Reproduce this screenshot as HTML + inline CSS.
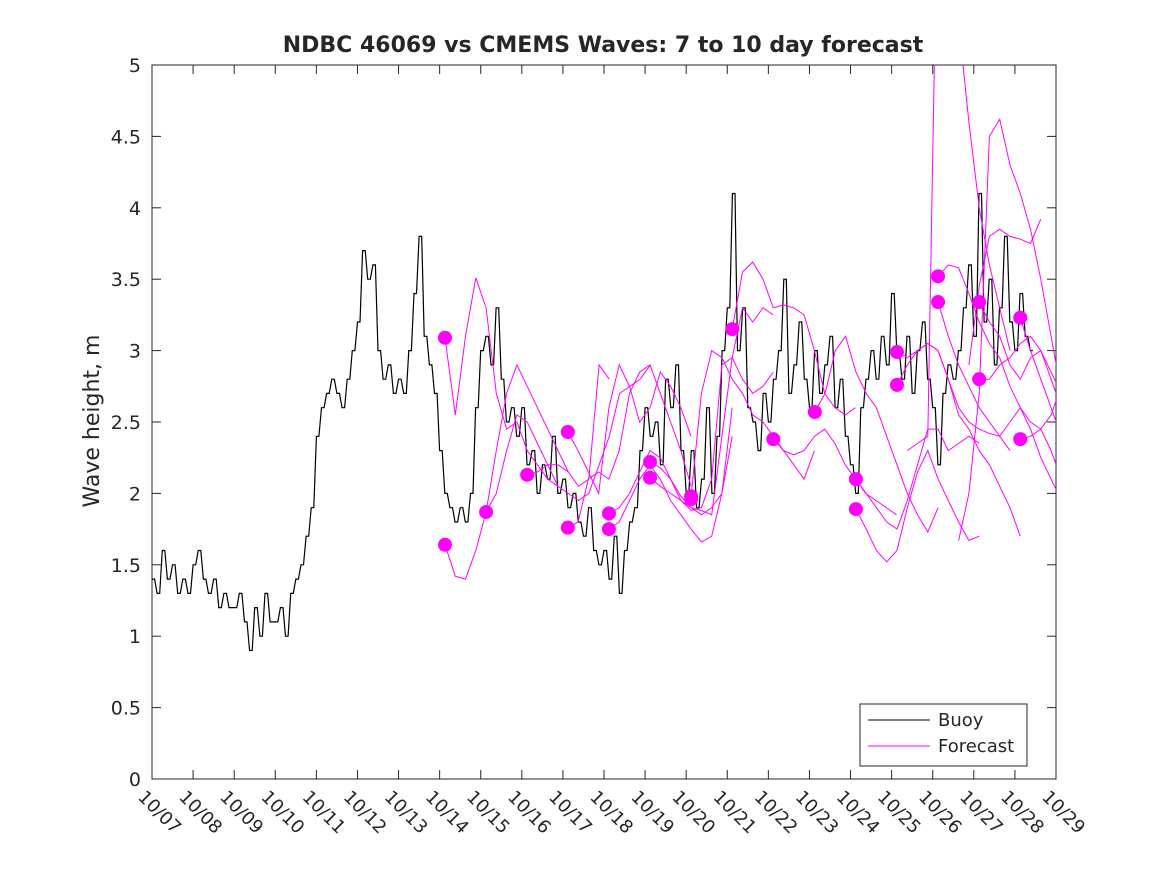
<!DOCTYPE html>
<html><head><meta charset="utf-8"><style>
body{margin:0;background:#fff;}
svg text{font-family:"DejaVu Sans","Liberation Sans",sans-serif;fill:#262626;}
</style></head><body>
<svg id="c" width="1167" height="875" xmlns="http://www.w3.org/2000/svg">
<defs><clipPath id="clip"><rect x="152" y="65" width="904" height="714"/></clipPath></defs>
<rect width="1167" height="875" fill="#fff"/>
<text x="603" y="52" text-anchor="middle" font-size="22" font-weight="bold">NDBC 46069 vs CMEMS Waves: 7 to 10 day forecast</text>
<text transform="translate(99,421) rotate(-90)" text-anchor="middle" font-size="22">Wave height, m</text>
<g id="axes"></g>
<g id="marks" clip-path="url(#clip)"></g>
<g id="legend">
<rect x="860" y="704" width="167" height="62" fill="#fff" stroke="#262626" stroke-width="1"/>
<line x1="868" y1="720" x2="930" y2="720" stroke="#000" stroke-width="1"/>
<text x="938" y="726" font-size="18">Buoy</text>
<line x1="868" y1="746" x2="930" y2="746" stroke="#ff00ff" stroke-width="1"/>
<text x="938" y="752" font-size="18">Forecast</text>
</g>
</svg>
<script>
const xTickLabels=["10/07","10/08","10/09","10/10","10/11","10/12","10/13","10/14","10/15","10/16","10/17","10/18","10/19","10/20","10/21","10/22","10/23","10/24","10/25","10/26","10/27","10/28","10/29"];
const yTicks=[0,0.5,1,1.5,2,2.5,3,3.5,4,4.5,5];
const buoyStart=0, buoyStep=0.125;
const buoy=[
1.4,1.3,1.6,1.4,1.5,1.3,1.4,1.3,
1.5,1.6,1.4,1.3,1.4,1.2,1.3,1.2,
1.2,1.3,1.1,0.9,1.2,1.0,1.3,1.1,
1.1,1.2,1.0,1.3,1.4,1.5,1.7,1.9,
2.4,2.6,2.7,2.8,2.7,2.6,2.8,3.0,
3.2,3.7,3.5,3.6,3.0,2.8,2.9,2.7,
2.8,2.7,3.0,3.4,3.8,3.1,2.9,2.7,
2.3,2.0,1.9,1.8,1.9,1.8,2.0,2.6,
3.0,3.1,2.9,3.3,2.8,2.5,2.6,2.4,
2.6,2.2,2.3,2.0,2.2,2.1,2.4,2.0,
2.1,1.9,2.0,1.8,1.7,1.9,1.6,1.5,
1.6,1.4,1.7,1.3,1.6,1.8,1.9,2.3,
2.6,2.4,2.5,2.2,2.8,2.6,2.9,2.3,
2.0,2.3,1.9,2.1,2.6,2.0,2.4,3.0,
3.3,4.1,3.0,3.3,2.6,2.5,2.3,2.7,
2.5,2.8,3.0,3.5,2.7,2.9,3.2,2.8,
2.6,3.0,2.7,2.9,3.1,2.6,2.8,2.4,
2.2,2.0,2.6,2.8,3.0,2.8,3.1,2.9,
3.4,3.0,2.8,3.1,2.7,3.0,3.2,2.8,
2.6,2.2,2.7,2.9,2.8,3.0,3.3,3.6,
3.1,4.1,3.2,3.5,2.9,3.3,3.8,3.2,
3.0,3.4,3.1,3.0];
const fcStep=0.25;
const fcStarts=[7.13,7.13,8.13,9.13,10.12,10.12,11.12,11.12,12.12,12.12,13.12,14.12,15.12,16.13,17.13,17.13,18.13,18.13,19.13,19.13,20.13,20.13,21.13,21.13,18.38,19.63,19.88];
const fcValues=[
[3.09,2.55,3.1,3.51,3.3,2.7,2.45,2.5,2.3,2.2,2.1,2.05],
[1.64,1.42,1.40,1.6,1.87,2.3,2.7,2.9,2.75,2.6,2.45,2.3,2.15],
[1.87,2.0,2.3,2.55,2.5,2.35,2.2,2.2,2.15,2.05,2.1,2.9,2.8],
[2.13,2.15,2.2,2.05,2.0,1.95,2.0,2.2,2.4,2.7,2.75,2.8,2.9],
[2.43,2.3,2.15,2.0,2.6,2.9,2.75,2.5,2.6,2.85,2.75,2.6,2.4],
[1.76,1.8,2.1,2.15,2.1,2.3,2.7,2.85,2.9,2.7,2.5,2.3,2.05],
[1.86,1.9,2.0,2.15,2.3,2.25,2.1,1.95,1.9,1.85,1.9,2.0,2.4],
[1.75,1.8,1.95,2.1,2.2,2.1,1.95,1.85,1.75,1.66,1.7,2.0,2.6],
[2.22,2.18,2.1,1.98,1.9,1.88,1.85,2.4,2.95,3.3,3.2,3.3,3.25],
[2.11,2.05,2.0,1.95,1.88,1.9,2.1,2.9,2.95,2.8,2.7,2.75,2.85],
[1.98,2.7,3.0,2.95,2.8,2.7,2.55,2.5,2.4,2.3,2.2,2.1,2.3],
[3.15,3.55,3.62,3.5,3.3,3.32,3.3,3.25,3.0,2.7,2.6,2.55,2.6],
[2.38,2.3,2.27,2.3,2.4,2.45,2.35,2.2,2.1,2.0,1.95,1.9,1.85],
[2.57,2.7,3.0,3.1,2.85,2.7,2.6,2.4,2.2,2.0,1.85,1.73,1.9],
[2.10,2.0,1.9,1.8,1.75,1.95,2.2,2.45,2.45,2.3,2.35,2.4,2.35],
[1.89,1.75,1.6,1.52,1.6,1.9,2.15,2.3,2.1,1.95,1.8,1.67,1.7],
[2.99,2.95,3.0,3.05,3.0,2.8,2.6,2.5,2.45,2.42,2.4,2.3],
[2.76,2.9,3.0,3.05,3.0,2.8,2.55,2.45,2.3,2.2,2.05,1.9,1.7],
[3.52,3.6,3.58,3.4,3.2,3.05,2.95,2.75,2.6,2.5,2.45,2.55,2.75,2.7],
[3.34,3.1,2.9,2.75,2.6,2.5,2.4,2.5,2.6,2.45,2.25,2.1,1.95],
[3.34,3.2,3.1,2.9,2.8,2.95,3.0,2.85,2.7,2.55,2.45,2.3,2.1],
[2.80,2.8,2.9,2.95,3.05,3.1,3.0,2.8,2.6,2.4,2.2,2.0,1.9],
[3.23,3.0,2.8,2.6,2.4,2.2,2.0,1.8,1.65],
[2.38,2.4,2.45,2.3,2.1,1.95,1.8,1.7,1.65],
[2.3,2.35,2.4,6.5,6.0,5.3,4.6,4.0,3.6,3.3,3.0],
[1.67,2.0,2.7,4.5,4.62,4.3,4.1,3.85,3.5,3.1,2.7,2.3,2.0],
[2.9,3.45,3.8,3.85,3.8,3.78,3.75,3.92]];
const dotDays=[7.13,7.13,8.13,9.13,10.12,10.12,11.12,11.12,12.12,12.12,13.12,13.12,14.12,15.12,16.13,17.13,17.13,18.13,18.13,19.13,19.13,20.13,20.13,21.13,21.13];
const dotValues=[3.09,1.64,1.87,2.13,2.43,1.76,1.86,1.75,2.22,2.11,1.98,1.96,3.15,2.38,2.57,2.10,1.89,2.99,2.76,3.52,3.34,3.34,2.80,3.23,2.38];

const X0=152,X1=1056,Y0=779,Y1=65;
const xs=d=>X0+d*(X1-X0)/22;
const ys=v=>Y0-v*(Y0-Y1)/5;
const NS="http://www.w3.org/2000/svg";
function mk(tag,attrs,parent){const e=document.createElementNS(NS,tag);for(const k in attrs)e.setAttribute(k,attrs[k]);parent.appendChild(e);return e;}
const axes=document.getElementById('axes'), marks=document.getElementById('marks');
const frame=mk('rect',{x:X0,y:Y1,width:X1-X0,height:Y0-Y1,fill:'none',stroke:'#262626','stroke-width':1},axes);


xTickLabels.forEach((t,i)=>{
 const x=xs(i);
 const l1=mk('line',{x1:x,y1:Y0,x2:x,y2:Y0-9,stroke:'#262626'},axes);
 
 
 const l2=mk('line',{x1:x,y1:Y1,x2:x,y2:Y1+9,stroke:'#262626'},axes);
 
 
 const tx=mk('text',{x:0,y:0,'font-size':18,transform:`translate(${x-15},${Y0+19}) rotate(45)`},axes);
 tx.textContent=t;
 
 
});
yTicks.forEach(v=>{
 const y=ys(v);
 const l1=mk('line',{x1:X0,y1:y,x2:X0+9,y2:y,stroke:'#262626'},axes);
 
 
 const l2=mk('line',{x1:X1,y1:y,x2:X1-9,y2:y,stroke:'#262626'},axes);
 
 
 const tx=mk('text',{x:X0-11,y:y+7,'font-size':19,'text-anchor':'end'},axes);
 tx.textContent=String(v);
 
 
});
let bp=[];
buoy.forEach((v,i)=>{
 const xa=xs(buoyStart+i*buoyStep), xb=xs(buoyStart+(i+1)*buoyStep);
 const y=ys(v);
 bp.push(xa.toFixed(1)+','+y.toFixed(1));
 bp.push(((xa+xb)/2).toFixed(1)+','+y.toFixed(1));
});
const bl=mk('polyline',{points:bp.join(' '),fill:'none',stroke:'#000','stroke-width':1.2},marks);


fcValues.forEach((vals,k)=>{
 const pts=vals.map((v,i)=>xs(fcStarts[k]+i*fcStep).toFixed(1)+','+ys(v).toFixed(1)).join(' ');
 const pl=mk('polyline',{points:pts,fill:'none',stroke:'#ff00ff','stroke-width':1},marks);
 
 
});
dotDays.forEach((d,i)=>{
 const c=mk('circle',{cx:xs(d),cy:ys(dotValues[i]),r:7,fill:'#ff00ff'},marks);
 
 
});
</script>
</body></html>
